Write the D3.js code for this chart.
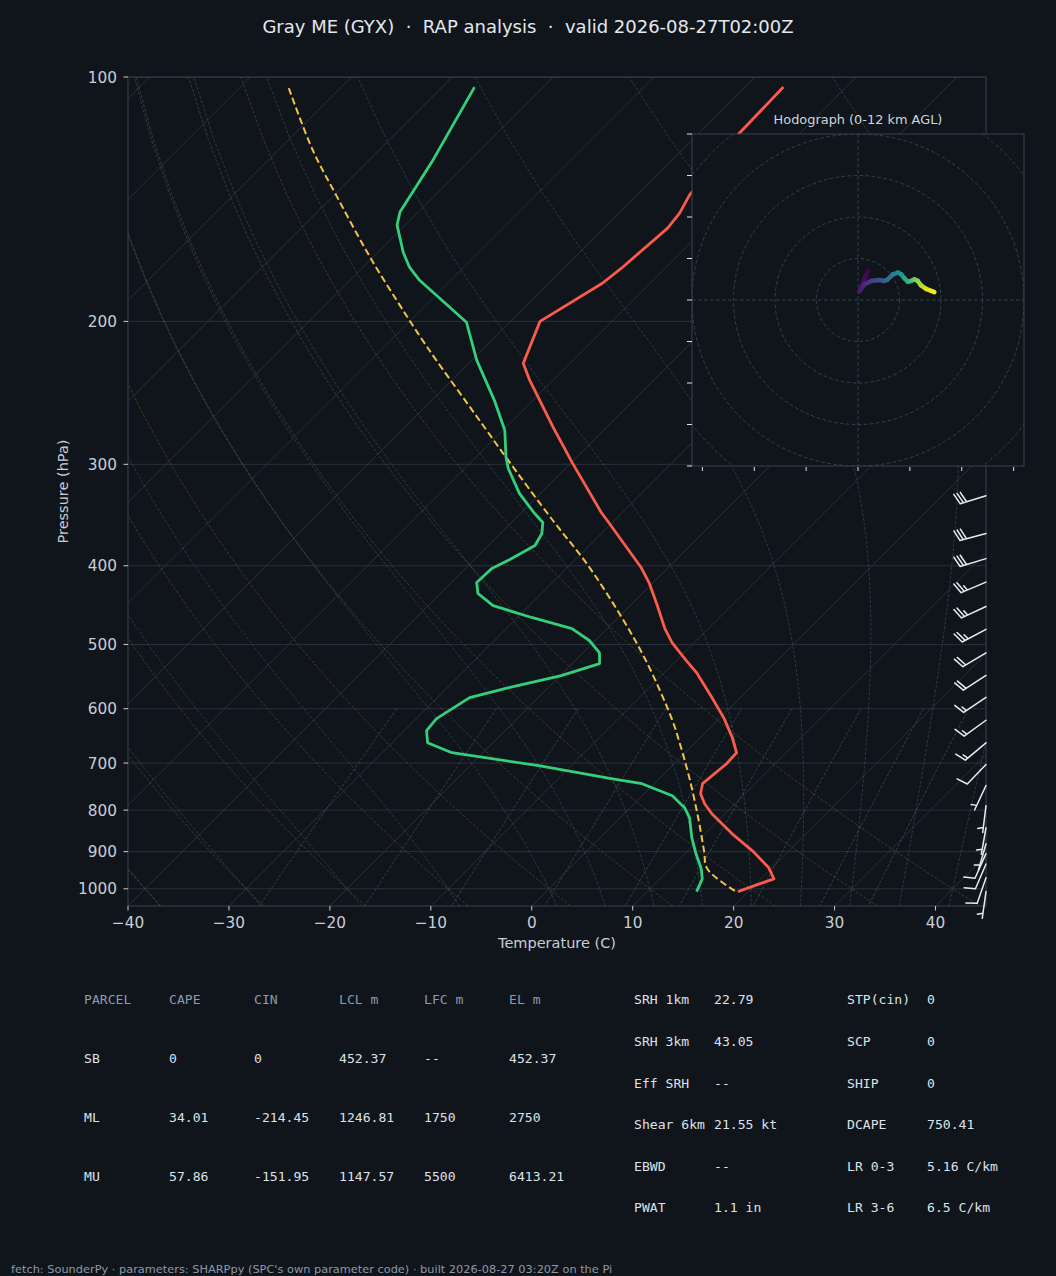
<!DOCTYPE html>
<html><head><meta charset="utf-8">
<script src="https://cdn.jsdelivr.net/npm/d3@7"></script>
<style>
html,body{margin:0;padding:0;background:#10141b;}
svg{display:block;}
text{font-family:"DejaVu Sans",sans-serif;}
.mono{font-family:"DejaVu Sans Mono",monospace;}
</style></head><body>
<svg id="c" width="1056" height="1276"></svg>
<script>
// ---------------- DATA ----------------
const titleText = "Gray ME (GYX)  ·  RAP analysis  ·  valid 2026-08-27T02:00Z";
const footerText = "fetch: SounderPy · parameters: SHARPpy (SPC's own parameter code) · built 2026-08-27 03:20Z on the Pi";
const pressureTicks = [100,200,300,400,500,600,700,800,900,1000];
const tempTicks = [-40,-30,-20,-10,0,10,20,30,40];

// Environmental temperature (hPa, degC)
const tempP = [102.9,117.2,139.8,147.1,153.5,172.0,179.5,200.0,225.3,236.3,270.1,299.2,343.9,354.8,402.0,420.6,445.2,478.0,497.4,523.5,541.6,581.4,617.1,651.5,679.8,701.4,742.2,763.6,785.7,808.3,855.6,897.9,942.2,972.1,1008];
const tempC = [-56.2,-56.0,-54.8,-54.0,-53.7,-54.3,-54.7,-57.1,-54.6,-52.3,-45.3,-39.8,-32.1,-30.2,-22.7,-20.3,-17.6,-14.3,-12.2,-9.0,-6.8,-2.8,0.5,3.2,5.1,5.2,4.8,5.6,7.0,8.7,12.7,16.4,19.7,21.3,19.0];

// Dewpoint
const dewP = [102.9,127.3,146.7,152.2,164.4,171.5,178.0,200.5,223.4,250.2,272.4,294.1,303.4,325.8,344.9,353.8,365.0,377.6,392.9,403.1,419.5,432.7,447.8,463.2,478.0,494.5,511.7,527.9,546.3,565.2,581.4,617.1,638.5,660.7,679.8,705.3,731.9,742.2,767.9,794.5,817.6,865.3,905.5,944.8,972.1,1008];
const dewC = [-86.8,-83.6,-81.8,-80.8,-77.5,-75.4,-73.1,-64.3,-59.5,-53.8,-49.8,-47.0,-45.7,-42.1,-38.6,-36.9,-35.9,-35.4,-36.5,-37.4,-37.5,-36.3,-33.6,-28.6,-23.5,-20.6,-18.4,-17.3,-19.9,-23.9,-26.8,-28.0,-27.8,-26.5,-23.1,-13.2,-4.6,-1.2,3.0,5.4,6.9,9.1,11.1,13.1,14.2,14.9];

// Surface parcel trace
const parcelP = [103.2,123.0,140.6,166.7,195.4,209.8,223.4,250.2,272.4,294.1,351.8,397.4,458.0,523.5,617.1,656.9,729.7,824.5,897.9,944.8,1008];
const parcelC = [-105.1,-96.6,-89.5,-80.3,-71.3,-67.2,-63.5,-56.7,-51.6,-47.0,-36.1,-28.5,-20.3,-13.0,-4.7,-1.8,2.9,8.1,11.6,13.7,18.8];

// Wind barbs (hPa, direction from, knots)
const barbP   = [328,365,392,419,449,479,512,546,581,620,661,703,746,790,841,880,905,932,969,1008];
const barbDir = [253,255,253,247,245,242,239,237,236,234,230,224,205,187,190,196,204,203,199,188];
const barbSpd = [30,30,30,25,25,25,20,20,15,15,15,10,5,5,5,5,10,10,10,5];

// Hodograph (u, v), 0-12 km
const hodoU = [2.4,0.3,1.6,3.2,5.2,6.4,7.2,8.4,9.6,10.4,11.2,12.0,12.8,13.6,14.4,15.2,16.4,18.4];
const hodoV = [7.0,2.0,3.8,4.6,4.8,4.6,5.0,6.2,6.6,6.2,5.2,4.4,4.6,5.0,4.6,3.5,2.7,1.9];
const hodoRings = [10,20,30,40,50];
const hodoXTicks = [-37.5,-25,-12.5,0,12.5,25,37.5];
const hodoYTicks = [-40,-30,-20,-10,0,10,20,30,40];

// Background guide families
const dryT0 = [-40,-30,-20,-10,0,10,20,30,40];
const moistT0 = [-40,-30,-20,-10,0,5,10,15,20,25,30,35,40,45];
const mixRatios = [0.0004,0.001,0.002,0.004,0.007,0.01,0.016,0.024,0.032];

// Tables
const parcelHeaders = ["PARCEL","CAPE","CIN","LCL m","LFC m","EL m"];
const parcelRows = [
  ["SB","0","0","452.37","--","452.37"],
  ["ML","34.01","-214.45","1246.81","1750","2750"],
  ["MU","57.86","-151.95","1147.57","5500","6413.21"]
];
const idxLabelsA = ["SRH 1km","SRH 3km","Eff SRH","Shear 6km","EBWD","PWAT"];
const idxValuesA = ["22.79","43.05","--","21.55 kt","--","1.1 in"];
const idxLabelsB = ["STP(cin)","SCP","SHIP","DCAPE","LR 0-3","LR 3-6"];
const idxValuesB = ["0","0","0","750.41","5.16 C/km","6.5 C/km"];

// ---------------- DRAWING ----------------
const BG = "#10141b";
const svg = d3.select("#c");
svg.append("rect").attr("width",1056).attr("height",1276).attr("fill",BG);
const defs = svg.append("defs");

const L=128, R=986, T=77, B=906;
const x = d3.scaleLinear().domain([-40,45]).range([L,R]);
const y = d3.scaleLog().domain([1050,100]).range([B,T]);
const SK = 1.0;
const X = (t,p) => x(t) + (B - y(p))*SK;

defs.append("clipPath").attr("id","plotclip").append("rect")
  .attr("x",L).attr("y",T).attr("width",R-L).attr("height",B-T);
const g = svg.append("g").attr("clip-path","url(#plotclip)");

const plevs = d3.range(50).map(i => 1050 + (100-1050)*i/49);
const lineTP = d3.line().x(d=>X(d[0],d[1])).y(d=>y(d[1]));

// isobars
g.selectAll(".isobar").data(pressureTicks).join("line")
  .attr("x1",L).attr("x2",R).attr("y1",d=>y(d)).attr("y2",d=>y(d))
  .attr("stroke","#29313c").attr("stroke-width",1);
// isotherms
g.selectAll(".isotherm").data(d3.range(-120,41,10)).join("line")
  .attr("x1",d=>X(d,1050)).attr("y1",y(1050)).attr("x2",d=>X(d,100)).attr("y2",y(100))
  .attr("stroke","#29313c").attr("stroke-width",1);

// dry adiabats
const kappa = 287.04749/1004.6662;
g.selectAll(".dry").data(dryT0).join("path")
  .attr("d",t0 => lineTP(plevs.map(p => [(t0+273.15)*Math.pow(p/1000,kappa)-273.15, p])))
  .attr("fill","none").attr("stroke","#7a5c35").attr("stroke-opacity",0.55)
  .attr("stroke-width",0.9).attr("stroke-dasharray","3,1.6");

// moist adiabats
function moistLapse(t0C, p){
  const Rd=287.04749, Cp=1004.6662, Lv=2.50084e6, eps=0.6219569;
  const es = Tk => { const c=Tk-273.15; return 6.112*Math.exp(17.67*c/(c+243.5)); };
  const f = (pp,Tk) => { const e=es(Tk); const rs=eps*e/(pp-e);
    return (1/pp)*(Rd*Tk+Lv*rs)/(Cp+(Lv*Lv*rs*eps/(Rd*Tk*Tk))); };
  let Tk=t0C+273.15, pc=1000;
  const n=Math.max(1,Math.ceil(Math.abs(p-pc)/4)), h=(p-pc)/n;
  for(let i=0;i<n;i++){
    const k1=f(pc,Tk), k2=f(pc+h/2,Tk+h*k1/2), k3=f(pc+h/2,Tk+h*k2/2), k4=f(pc+h,Tk+h*k3);
    Tk+=h*(k1+2*k2+2*k3+k4)/6; pc+=h;
  }
  return Tk-273.15;
}
g.selectAll(".moist").data(moistT0).join("path")
  .attr("d",t0 => lineTP(plevs.map(p => [moistLapse(t0,p), p])))
  .attr("fill","none").attr("stroke","#3f6276").attr("stroke-opacity",0.55)
  .attr("stroke-width",0.9).attr("stroke-dasharray","3,1.6");

// mixing ratio lines
const mixP = d3.range(50).map(i => 600 + (1050-600)*i/49);
g.selectAll(".mix").data(mixRatios).join("path")
  .attr("d",w => lineTP(mixP.map(p => { const e=p*w/(0.6219569+w); const l=Math.log(e/6.112);
      return [243.5*l/(17.67-l), p]; })))
  .attr("fill","none").attr("stroke","#3f6e70").attr("stroke-opacity",0.6)
  .attr("stroke-width",0.9).attr("stroke-dasharray","3,1.6");

// profiles
const prof = (P,C) => P.map((p,i)=>[C[i],p]);
g.append("path").attr("d",d3.line().x(d=>X(d[0],d[1])).y(d=>y(d[1])).curve(d3.curveCatmullRom)(prof(parcelP,parcelC)))
  .attr("fill","none").attr("stroke","#f4c244").attr("stroke-width",2).attr("stroke-dasharray","7,3.5");
g.append("path").attr("d",lineTP(prof(tempP,tempC)))
  .attr("fill","none").attr("stroke","#fa5b4b").attr("stroke-width",2.8).attr("stroke-linejoin","round");
g.append("path").attr("d",lineTP(prof(dewP,dewC)))
  .attr("fill","none").attr("stroke","#33cf7b").attr("stroke-width",2.8).attr("stroke-linejoin","round");

// frame
svg.append("rect").attr("x",L).attr("y",T).attr("width",R-L).attr("height",B-T)
  .attr("fill","none").attr("stroke","#364252").attr("stroke-width",1);

// axes ticks and labels
const TICKC = "#c9ced6";
const yAx = svg.append("g");
pressureTicks.forEach(p => {
  yAx.append("line").attr("x1",L-4.5).attr("x2",L).attr("y1",y(p)).attr("y2",y(p)).attr("stroke",TICKC).attr("stroke-width",1);
  yAx.append("text").attr("x",L-11).attr("y",y(p)).attr("dy","0.36em").attr("text-anchor","end")
    .attr("font-size",15.3).attr("fill",TICKC).text(p);
});
tempTicks.forEach(t => {
  svg.append("line").attr("x1",x(t)).attr("x2",x(t)).attr("y1",B).attr("y2",B+4.5).attr("stroke",TICKC).attr("stroke-width",1);
  svg.append("text").attr("x",x(t)).attr("y",B+22).attr("text-anchor","middle")
    .attr("font-size",15.3).attr("fill",TICKC).text(t<0 ? "\u2212"+Math.abs(t) : String(t));
});
svg.append("text").attr("x",(L+R)/2).attr("y",948).attr("text-anchor","middle")
  .attr("font-size",14.5).attr("fill",TICKC).text("Temperature (C)");
svg.append("text").attr("transform",`translate(68,${(T+B)/2}) rotate(-90)`).attr("text-anchor","middle")
  .attr("font-size",14.5).attr("fill",TICKC).text("Pressure (hPa)");

// wind barbs
function barbPath(x0,y0,dir,spd){
  const Lb=27, fh=0.4*Lb, fw=0.25*Lb, sp=0.125*Lb;
  const th=dir*Math.PI/180;
  const d=[Math.sin(th), -Math.cos(th)];      // screen toward source
  const f=[Math.cos(th), Math.sin(th)];       // screen feather direction
  const pt=(o,h,s)=>[x0+d[0]*(o+s)+f[0]*h, y0+d[1]*(o+s)+f[1]*h];
  let path=`M${x0},${y0}L${x0+d[0]*Lb},${y0+d[1]*Lb}`;
  let s=Math.round(spd/5)*5;
  let nfull=Math.floor(s/10), half=(s%10)>=5;
  let o=Lb;
  for(let i=0;i<nfull;i++){ const b=pt(o,0,0), e=pt(o,fh,fw/2); path+=`M${b[0]},${b[1]}L${e[0]},${e[1]}`; o-=sp; }
  if(half){ if(o===Lb) o-=1.5*sp; const b=pt(o,0,0), e=pt(o,fh/2,fw/4); path+=`M${b[0]},${b[1]}L${e[0]},${e[1]}`; }
  return path;
}
svg.append("g").selectAll("path").data(barbP).join("path")
  .attr("d",(p,i)=>barbPath(R,y(p),barbDir[i],barbSpd[i]))
  .attr("fill","none").attr("stroke","#e6ebf0").attr("stroke-width",1.5).attr("stroke-linecap","round");

// hodograph inset
const HX0=692, HX1=1024, HY0=134, HY1=466;
const hx = d3.scaleLinear().domain([-40,40]).range([HX0,HX1]);
const hy = d3.scaleLinear().domain([-40,40]).range([HY1,HY0]);
const hgrp = svg.append("g");
hgrp.append("rect").attr("x",HX0).attr("y",HY0).attr("width",HX1-HX0).attr("height",HY1-HY0).attr("fill",BG);
defs.append("clipPath").attr("id","hodoclip").append("rect")
  .attr("x",HX0).attr("y",HY0).attr("width",HX1-HX0).attr("height",HY1-HY0);
const hin = hgrp.append("g").attr("clip-path","url(#hodoclip)");
hin.selectAll("circle").data(hodoRings).join("circle")
  .attr("cx",hx(0)).attr("cy",hy(0)).attr("r",r=>hx(r)-hx(0))
  .attr("fill","none").attr("stroke","#3a4656").attr("stroke-width",0.9).attr("stroke-dasharray","3.5,2.5");
hin.append("line").attr("x1",HX0).attr("x2",HX1).attr("y1",hy(0)).attr("y2",hy(0))
  .attr("stroke","#3a4656").attr("stroke-width",0.9).attr("stroke-dasharray","3.5,2.5");
hin.append("line").attr("y1",HY0).attr("y2",HY1).attr("x1",hx(0)).attr("x2",hx(0))
  .attr("stroke","#3a4656").attr("stroke-width",0.9).attr("stroke-dasharray","3.5,2.5");
const n = hodoU.length;
for(let i=0;i<n-1;i++){
  const x1=hx(hodoU[i]), y1=hy(hodoV[i]), x2=hx(hodoU[i+1]), y2=hy(hodoV[i+1]);
  const gr = defs.append("linearGradient").attr("id","hg"+i).attr("gradientUnits","userSpaceOnUse")
    .attr("x1",x1).attr("y1",y1).attr("x2",x2).attr("y2",y2);
  gr.append("stop").attr("offset",0).attr("stop-color",d3.interpolateViridis(i/(n-1)));
  gr.append("stop").attr("offset",1).attr("stop-color",d3.interpolateViridis((i+1)/(n-1)));
  hin.append("line").attr("x1",x1).attr("y1",y1).attr("x2",x2).attr("y2",y2)
    .attr("stroke",`url(#hg${i})`).attr("stroke-width",4.5).attr("stroke-linecap","round");
}
hgrp.append("rect").attr("x",HX0).attr("y",HY0).attr("width",HX1-HX0).attr("height",HY1-HY0)
  .attr("fill","none").attr("stroke","#364252").attr("stroke-width",1);
hodoYTicks.forEach(v => hgrp.append("line").attr("x1",HX0-5).attr("x2",HX0).attr("y1",hy(v)).attr("y2",hy(v))
  .attr("stroke","#dfe4ea").attr("stroke-width",1));
hodoXTicks.forEach(u => hgrp.append("line").attr("x1",hx(u)).attr("x2",hx(u)).attr("y1",HY1+1).attr("y2",HY1+5)
  .attr("stroke","#dfe4ea").attr("stroke-width",1));
hgrp.append("text").attr("x",(HX0+HX1)/2).attr("y",124).attr("text-anchor","middle")
  .attr("font-size",12.9).attr("fill","#cfd5dc").text("Hodograph (0-12 km AGL)");

// title
svg.append("text").attr("x",528).attr("y",33).attr("text-anchor","middle").attr("font-size",18)
  .attr("fill","#e4e8ed").style("white-space","pre").text(titleText);

// parcel table
const colX = [84,169,254,339,424,509];
const rowY = [999,1058,1117,1176];
parcelHeaders.forEach((h,i)=> svg.append("text").attr("class","mono").attr("x",colX[i]).attr("y",rowY[0]).attr("dy","0.36em")
  .attr("font-size",13.1).attr("fill","#8c9bad").text(h));
parcelRows.forEach((r,j)=> r.forEach((v,i)=> svg.append("text").attr("class","mono").attr("x",colX[i]).attr("y",rowY[j+1]).attr("dy","0.36em")
  .attr("font-size",13.1).attr("fill","#dde2e8").text(v)));
// index table
const idxRowY = [999,1041,1083,1124,1166,1207];
idxRowY.forEach((yy,i)=>{
  [[634,idxLabelsA[i]],[714,idxValuesA[i]],[847,idxLabelsB[i]],[927,idxValuesB[i]]].forEach(([xx,t])=>
    svg.append("text").attr("class","mono").attr("x",xx).attr("y",yy).attr("dy","0.36em")
      .attr("font-size",13.1).attr("fill","#dde2e8").text(t));
});

// footer
svg.append("text").attr("x",11).attr("y",1273).attr("font-size",11.35).attr("fill","#8d99a7").text(footerText);
</script>
</body></html>
